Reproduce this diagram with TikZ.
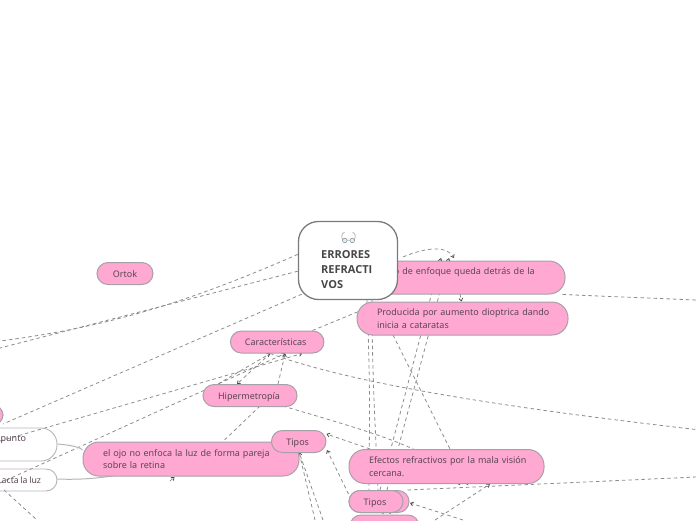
\documentclass[tikz,border=0pt]{standalone}
\usepackage{fontspec}
\setmainfont{Noto Sans}[WordSpace=0.75]
\newfontfamily\titlefont{Open Sans}
\usetikzlibrary{arrows.meta,backgrounds}
\definecolor{pinkFill}{RGB}{255,168,209}
\definecolor{boxLine}{RGB}{168,160,168}
\definecolor{textColor}{RGB}{90,70,85}
\definecolor{linkColor}{RGB}{140,140,140}
\tikzset{
  pinkbox/.style={draw=boxLine,line width=1pt,fill=pinkFill,text=textColor,font=\fontsize{9}{12.5}\selectfont,inner sep=0pt},
  oneline/.style={text height=9pt,text depth=1.6pt},
  sidebox/.style={draw=boxLine!80,line width=0.9pt,text=textColor,font=\fontsize{9}{12.5}\selectfont,inner ysep=0pt,align=right},
  link/.style={draw=linkColor,line width=0.8pt,dash pattern=on 3.5pt off 3pt},
  tip/.style={-{Straight Barb[length=2.6pt,width=4pt,color=black!70]}},
}
\begin{document}
\begin{tikzpicture}[x=1pt,y=-1pt]
\useasboundingbox (0,0) rectangle (696,520);
% side boxes and pink boxes
\node[pinkbox,oneline,rounded corners=11pt,minimum width=56pt,minimum height=22pt] (ortok) at (125,273.5) {Ortok};
\node[pinkbox,rounded corners=16pt,minimum width=216pt,minimum height=33pt,text width=176pt,align=left] (punto) at (457,277.5) {\mbox{\hspace{5pt}Punto de enfoque queda detrás de la}\\~};
\node[pinkbox,rounded corners=16pt,minimum width=211pt,minimum height=33pt,text width=171pt,align=left] (producida) at (462.5,318.5) {\mbox{Producida por aumento dioptrica dando}\\inicia a cataratas};
\node[pinkbox,oneline,rounded corners=11pt,minimum width=93.5pt,minimum height=22pt] (caract) at (277.2,342) {\hspace{-3pt}Características};
\node[pinkbox,oneline,rounded corners=11pt,minimum width=94pt,minimum height=22pt] (hiper) at (250,395.5) {\hspace{-2pt}Hipermetropía};
\node[pinkbox,rounded corners=16pt,minimum width=216pt,minimum height=34pt,text width=176pt,align=left] (ojo) at (191,459) {\mbox{el ojo no enfoca la luz de forma pareja}\\sobre la retina};
\node[pinkbox,oneline,rounded corners=11pt,minimum width=54.5pt,minimum height=22pt] (tipos) at (298.7,441.5) {\hspace{-2pt}Tipos};
\node[pinkbox,rounded corners=16pt,minimum width=195pt,minimum height=34pt,text width=155pt,align=left] (efectos) at (446.5,466.5) {\mbox{Efectos refractivos por la mala visión}\\cercana.};
\node[pinkbox,rounded corners=11pt,minimum width=60pt,minimum height=22pt] (tiposback) at (379,501.5) {};
\node[pinkbox,oneline,rounded corners=11pt,minimum width=54pt,minimum height=22pt] (tiposfront) at (376,501.5) {\hspace{-2pt}Tipos};
\node[pinkbox,rounded corners=11pt,minimum width=69pt,minimum height=22pt] (abajo) at (384.5,526) {};
\node[pinkbox,rounded corners=11pt,minimum width=53pt,minimum height=21pt] (izq) at (-23.5,415) {};
\node[sidebox,rounded corners=16pt,minimum width=117pt,minimum height=33pt,text width=55pt,inner xsep=31pt] (ptobox) at (-1.5,444.5) {punto\\~};
\node[sidebox,rounded corners=11pt,minimum width=117pt,minimum height=22pt] (luzbox) at (-1.5,480) {};
\node[anchor=west,inner sep=0pt,text=textColor,font=\fontsize{8.7}{12}\selectfont] (luztxt) at (1.5,480) {acta la luz};
\node[draw=black!52,line width=1.3pt,fill=white,rounded corners=20pt,minimum width=99pt,minimum height=78pt,inner sep=0pt] (errores) at (348,260.5) {};
\node[anchor=north west,inner sep=0pt,text=black!72,align=left,font=\fontsize{11}{15}\titlefont\bfseries\selectfont] (titulo) at (321,250.5) {ERRORES\\REFRACTI\\VOS};
% icon
\draw[black!45,line width=0.5pt,fill=cyan!15!white] (344.8,240.5) circle (2.3) (352.2,240.5) circle (2.3);
\draw[black!45,line width=0.5pt] (347,240) -- (350,240) (342.6,239.8) .. controls (341,236) and (342,232.5) .. (344.5,232.5) (354.4,239.8) .. controls (356,236) and (355,232.5) .. (352.5,232.5);
\begin{scope}[on background layer]
% connectors on the left
\coordinate (far3) at (0,341);
\coordinate (far4) at (0,348);
\draw[link] (errores.173) .. controls (180,306) and (100,328) .. (far3);
\draw[link] (errores.192) -- (far4);
\coordinate (izqtip) at (3,424);
\draw[link] ([xshift=4pt,yshift=6pt]errores.south west) -- (izqtip);
\coordinate (far1) at (0,441);
\coordinate (far2) at (0,483);
\draw[link,tip] (far1) -- ([xshift=25pt]caract.south);
\draw[link,tip] (far2) -- ([xshift=8pt]caract.south);
\draw[link,tip] (hiper.north) ++(28,0) -- ([xshift=8pt]caract.south);
\draw[link,tip] ([xshift=-7pt]caract.south) -- ([xshift=-13pt]hiper.north);
\draw[link,tip] (218,384) -- ([xshift=-7pt]caract.south);
% center box down
\draw[link] ([xshift=-12pt]caract.north east) -- (367,308);
\draw[link] (errores.south) ++(19,0) .. controls (371,400) and (369,440) .. (369,490);
\draw[link] (errores.south) ++(24,0) .. controls (372,370) and (375,420) .. (378,490);
\draw[link,tip] (380,490) -- (441,258);
\draw[link,tip] (387,490) -- (449,258);
\draw[link,tip] (errores.north east) ++(5,36) .. controls (420,250) and (445,243) .. (454,258);
\draw[link,tip] (460,294) -- ([xshift=-1pt]producida.north);
\draw[link,tip] (393,335) -- (468,485);
% right side
\coordinate (right1) at (696,300);
\coordinate (right2) at (696,429.5);
\coordinate (right3) at (696,477);
\draw[link] ([xshift=-3pt]punto.south east) -- (right1);
\draw[link] ([xshift=-7pt]caract.south) .. controls (350,383) and (500,407) .. (right2);
\draw[link] ([xshift=-2pt]tiposback.north east) -- (right3);
\coordinate (bot1) at (435,520);
\coordinate (bot2) at (463,520);
\draw[link,tip] (bot1) -- (490,484);
\draw[link,tip] (bot2) -- (410,503);
% hipermetropia
\draw[link,tip] (283,406) .. controls (370,432) and (440,450) .. (460,485);
\draw[link,tip] (370,449) -- (tipos.east |- 0,434);
\draw[link] (260,406) -- (185,478);
\coordinate (ojotail) at (170,481);
\draw[link,tip] (ojotail) -- (174.5,477);
% tipos
\draw[link,tip] (tiposfront.north west) ++(0,4) -- (327,450);
\coordinate (bot3) at (315,520);
\coordinate (bot4) at (323,520);
\draw[link,tip] (bot3) -- (299,452);
\draw[link] (bot4) -- (299,452);
% lower boxes
\draw[draw=boxLine!80,line width=1pt] (ptobox.east |- 0,444) .. controls (70,445) and (80,447) .. (ojo.west |- 0,450);
\draw[draw=boxLine!80,line width=1pt] (luzbox.east |- 0,479) .. controls (80,480) and (100,478) .. (115,475.5);
\coordinate (bot5) at (37,520);
\draw[link] (4,490) -- (bot5);
\draw[link,tip] (383,490) -- (383,514);
\draw[link,tip] (390,490) -- (390,514);
\end{scope}
\end{tikzpicture}
\end{document}
